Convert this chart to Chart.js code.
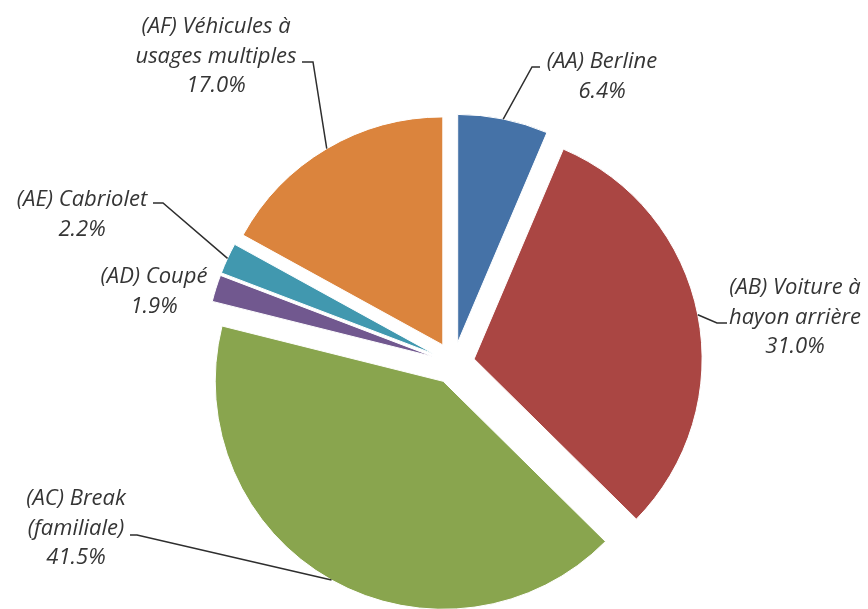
<!DOCTYPE html>
<html>
  <head>
    <title>Types de carrosserie</title>
    <script src="https://cdn.jsdelivr.net/npm/chart.js"></script>
    <style>
      body { margin: 0; background: #fff; }
      .chart-container { width: 868px; height: 609px; position: relative; }
    </style>
  </head>
  <body>
    <div class="chart-container">
      <canvas id="pieChart"></canvas>
    </div>
    <script>
      // data
      const categories = [
        ['(AA) Berline'],
        ['(AB) Voiture à', 'hayon arrière'],
        ['(AC) Break', '(familiale)'],
        ['(AD) Coupé'],
        ['(AE) Cabriolet'],
        ['(AF) Véhicules à', 'usages multiples']
      ];
      const shares = [6.4, 31.0, 41.5, 1.9, 2.2, 17.0];
      const colors = ['#4572A7', '#AA4643', '#89A54E', '#71588F', '#4198AF', '#DB843D'];

      // label layout: centre x, first line y, leader elbow (label side first)
      const labelSpots = [
        { x: 602, y: 62, leader: [[540, 67], [532, 67]] },
        { x: 795, y: 288, leader: [[727, 323], [717, 323]] },
        { x: 76, y: 499, leader: [[130, 535], [137, 535]] },
        { x: 154, y: 277, leader: null },
        { x: 82, y: 200, leader: [[153, 203], [163, 203]] },
        { x: 216, y: 27, leader: [[302, 62], [313, 62]] }
      ];

      const explode = 21;
      const lineHeight = 29.5;

      const explodedPie = {
        id: 'explodedPie',
        beforeDatasetDraw(chart, args) {
          const ctx = chart.ctx;
          args.meta.data.forEach(arc => {
            const mid = (arc.startAngle + arc.endAngle) / 2;
            ctx.save();
            ctx.translate(Math.cos(mid) * explode, Math.sin(mid) * explode);
            arc.draw(ctx);
            ctx.restore();
          });
          return false;
        },
        afterDraw(chart) {
          const ctx = chart.ctx;
          const arcs = chart.getDatasetMeta(0).data;
          ctx.save();
          ctx.font = 'italic 22px "Open Sans"';
          ctx.fillStyle = '#353535';
          ctx.textAlign = 'center';
          ctx.textBaseline = 'middle';
          arcs.forEach((arc, i) => {
            const spot = labelSpots[i];
            const lines = categories[i].concat([shares[i].toFixed(1) + '%']);
            lines.forEach((t, k) => ctx.fillText(t, spot.x, spot.y + k * lineHeight));
            if (spot.leader) {
              const mid = (arc.startAngle + arc.endAngle) / 2;
              const r = arc.outerRadius + explode;
              ctx.beginPath();
              ctx.strokeStyle = '#2e2e2e';
              ctx.lineWidth = 1.5;
              ctx.moveTo(spot.leader[0][0], spot.leader[0][1]);
              ctx.lineTo(spot.leader[1][0], spot.leader[1][1]);
              ctx.lineTo(arc.x + Math.cos(mid) * r, arc.y + Math.sin(mid) * r);
              ctx.stroke();
            }
          });
          ctx.restore();
        }
      };

      new Chart(document.getElementById('pieChart'), {
        type: 'pie',
        data: {
          labels: categories,
          datasets: [{
            data: shares,
            backgroundColor: colors,
            borderColor: '#fff',
            borderWidth: 1
          }]
        },
        options: {
          responsive: true,
          maintainAspectRatio: false,
          animation: false,
          radius: 228,
          layout: { padding: { left: 39, right: 0, top: 117, bottom: 0 } },
          plugins: {
            legend: { display: false },
            tooltip: { enabled: false }
          }
        },
        plugins: [explodedPie]
      });
    </script>
  </body>
</html>
